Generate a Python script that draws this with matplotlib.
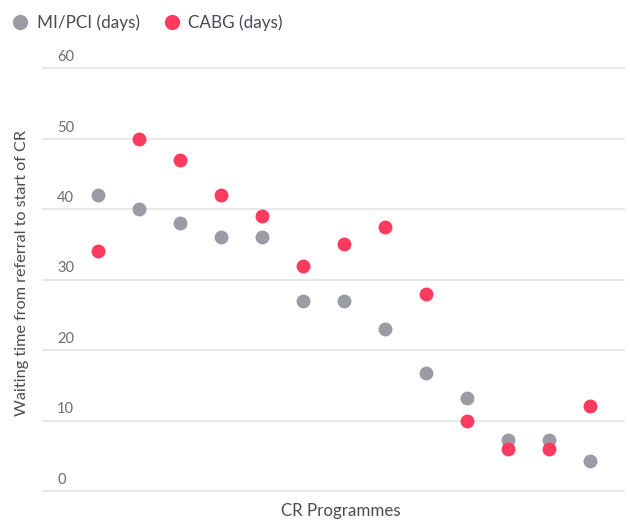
import matplotlib
matplotlib.use('Agg')
import matplotlib.pyplot as plt
import matplotlib.transforms as mtransforms
from matplotlib.lines import Line2D

# Datos
programmes = list(range(13))
mi_pci_days = [42, 40, 38, 36, 36, 27, 27, 23, 16.7, 13.2, 7.2, 7.2, 4.3]
cabg_days = [34, 50, 47, 42, 39, 32, 35, 37.5, 28, 10, 6, 6, 12]
y_ticks = [0, 10, 20, 30, 40, 50, 60]

GREY = '#9b9ca3'
RED = '#ff3a5f'
TEXT = '#4a4b57'

plt.rcParams['font.family'] = ['Lato', 'DejaVu Sans']

fig = plt.figure(figsize=(6.3, 5.21), dpi=100)
W, H = 630, 521
ax = fig.add_axes([42 / W, (H - 491) / H, (625 - 42) / W, (491 - 68.3) / H])

ax.set_xlim(-1.37, 12.85)
ax.set_ylim(0, 60)
for s in ax.spines.values():
    s.set_visible(False)
ax.set_xticks([])
ax.set_yticks([])

# Líneas de rejilla
ax.hlines(y_ticks, -1.37, 12.85, colors='#e4e4e6', linewidth=1.2, clip_on=False, zorder=0)

# Etiquetas del eje y (encima de la línea)
trans = mtransforms.blended_transform_factory(ax.transAxes, ax.transData)
for t in y_ticks:
    ax.text(15 / (625 - 42), t + 0.6, str(t), transform=trans, ha='left', va='bottom',
            fontsize=10.5, color='#6b6c75')

ax.scatter(programmes, mi_pci_days, s=100, color=GREY, zorder=3, linewidths=0)
ax.scatter(programmes, cabg_days, s=100, color=RED, zorder=3, linewidths=0)

fig.text(22 / W, 1 - 273 / H, 'Waiting time from referral to start of CR', rotation=90,
         ha='center', va='center', fontsize=11.7, color=TEXT)
fig.text(341 / W, 1 - 511 / H, 'CR Programmes', ha='center', va='center',
         fontsize=12.2, color=TEXT)

handles = [
    Line2D([], [], marker='o', linestyle='', markersize=11, color=GREY, markeredgewidth=0),
    Line2D([], [], marker='o', linestyle='', markersize=11, color=RED, markeredgewidth=0),
]
fig.legend(handles, ['MI/PCI (days)', 'CABG (days)'], loc='center left',
           bbox_to_anchor=(-6 / W, 1 - 22.5 / H), ncol=2, frameon=False,
           handletextpad=0.3, columnspacing=1.25, handlelength=1.3,
           fontsize=12.3, labelcolor=TEXT)

fig.savefig('out.png', dpi=100)
